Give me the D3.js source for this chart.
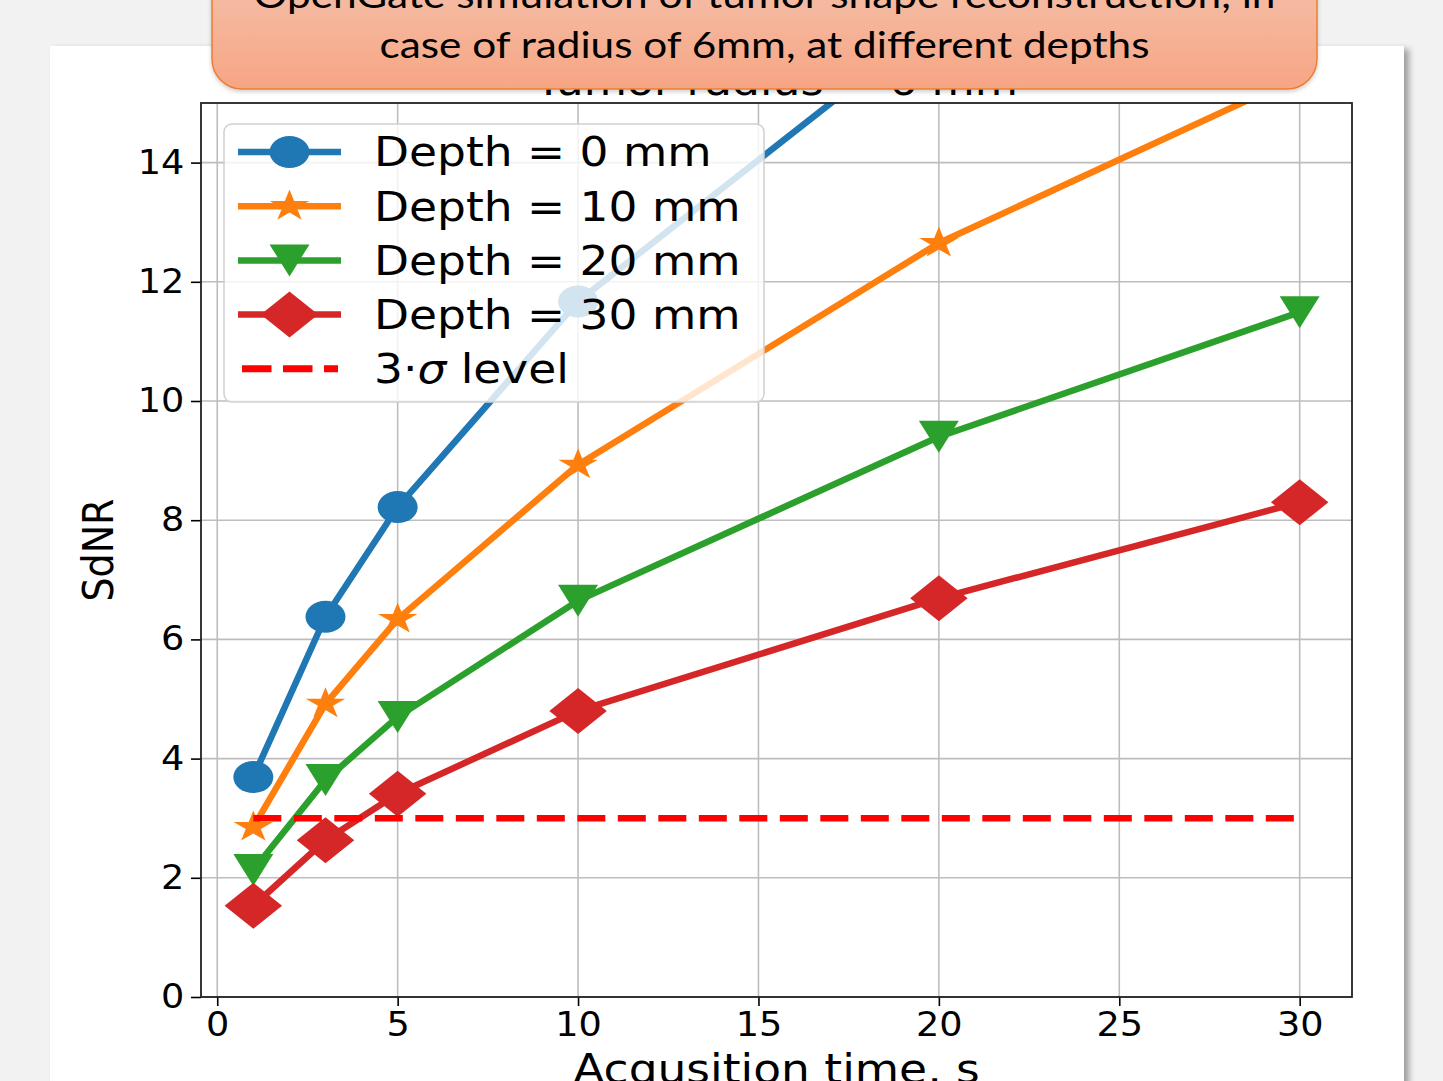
<!DOCTYPE html>
<html>
<head>
<meta charset="utf-8">
<script src="https://cdn.jsdelivr.net/npm/d3@7"></script>
<style>
  body { margin: 0; background: #f2f2f2; }
  svg { display: block; }
</style>
</head>
<body>
<svg id="chart"></svg>
<script>
// acquisition times (s)
const times = [1, 3, 5, 10, 20, 30];

// SdNR for each depth (null = no visible point)
const depth0 = [3.69, 6.38, 8.22, 11.67, 16.42, null];
const depth10 = [2.85, 4.92, 6.34, 8.93, 12.65, 15.45];
const depth20 = [2.13, 3.64, 4.70, 6.65, 9.40, 11.49];
const depth30 = [1.53, 2.63, 3.41, 4.80, 6.69, 8.30];

const sigmaLevel = 3;

const seriesNames = ["Depth = 0 mm", "Depth = 10 mm", "Depth = 20 mm", "Depth = 30 mm"];
const sigmaParts = ["3·", "σ", " level"];   // sigma is set in italic

const xTicks = [0, 5, 10, 15, 20, 25, 30];
const yTicks = [0, 2, 4, 6, 8, 10, 12, 14];

const titleText = "Tumor radius = 6 mm";
const xLabel = "Acqusition time, s";
const yLabel = "SdNR";
const calloutLines = [
  "OpenGate simulation of tumor shape reconstruction, in",
  "case of radius of 6mm, at different depths"
];

const W = 1443, H = 1081;
const plot = { left: 201, right: 1352, top: 103, bottom: 997 };
const SX = 1.25;   // the picture is stretched horizontally, markers show it
const TX = 1.11;   // text stretch

const colors = ["#1f77b4", "#ff7f0e", "#2ca02c", "#d62728"];
const shapes = ["circle", "star", "tridown", "diamond"];

const svg = d3.select("#chart").attr("width", W).attr("height", H);
const defs = svg.append("defs");

defs.append("clipPath").attr("id", "plotclip")
  .append("rect")
  .attr("x", plot.left).attr("y", plot.top)
  .attr("width", plot.right - plot.left)
  .attr("height", plot.bottom - plot.top);

const shadow = defs.append("filter").attr("id", "panelshadow")
  .attr("x", "-5%").attr("y", "-5%").attr("width", "110%").attr("height", "110%");
shadow.append("feDropShadow")
  .attr("dx", 5).attr("dy", 3).attr("stdDeviation", 3)
  .attr("flood-color", "#000").attr("flood-opacity", 0.35);

const boxShadow = defs.append("filter").attr("id", "boxshadow")
  .attr("x", "-5%").attr("y", "-20%").attr("width", "110%").attr("height", "140%");
boxShadow.append("feDropShadow")
  .attr("dx", 0).attr("dy", 2).attr("stdDeviation", 2)
  .attr("flood-color", "#000").attr("flood-opacity", 0.2);

const grad = defs.append("linearGradient").attr("id", "calloutgrad")
  .attr("gradientUnits", "userSpaceOnUse")
  .attr("x1", 0).attr("y1", 0).attr("x2", 0).attr("y2", 89);
grad.append("stop").attr("offset", "0%").attr("stop-color", "#f4baa1");
grad.append("stop").attr("offset", "100%").attr("stop-color", "#f7a584");

// white slide panel
svg.append("rect")
  .attr("x", 50).attr("y", 46).attr("width", 1354).attr("height", 1100)
  .attr("fill", "#fff")
  .attr("filter", "url(#panelshadow)");

const x = d3.scaleLinear().domain([-0.45, 31.45]).range([plot.left, plot.right]);
const y = d3.scaleLinear().domain([0, 15]).range([plot.bottom, plot.top]);

// grid
const grid = svg.append("g").attr("stroke", "#bdbdbd").attr("stroke-width", 1.6);
grid.selectAll(".gx").data(xTicks).join("line")
  .attr("x1", d => x(d)).attr("x2", d => x(d))
  .attr("y1", plot.top).attr("y2", plot.bottom);
grid.selectAll(".gy").data(yTicks).join("line")
  .attr("x1", plot.left).attr("x2", plot.right)
  .attr("y1", d => y(d)).attr("y2", d => y(d));

function markerPath(kind) {
  if (kind === "circle") {
    return "M-16,0A16,16 0 1,0 16,0A16,16 0 1,0 -16,0Z";
  }
  if (kind === "tridown") {
    return "M0,16L-16,-16L16,-16Z";
  }
  if (kind === "diamond") {
    return "M0,-23L23,0L0,23L-23,0Z";
  }
  // five point star, point up
  const R = 16.6, r = R * 0.381966;
  let p = [];
  for (let i = 0; i < 10; i++) {
    const a = -Math.PI / 2 + i * Math.PI / 5;
    const rad = i % 2 === 0 ? R : r;
    p.push([rad * Math.cos(a), rad * Math.sin(a)]);
  }
  return "M" + p.map(q => q[0].toFixed(2) + "," + q[1].toFixed(2)).join("L") + "Z";
}

const allSeries = [depth0, depth10, depth20, depth30];

const line = d3.line()
  .defined(d => d.v !== null)
  .x(d => x(d.t))
  .y(d => y(d.v));

const plotG = svg.append("g").attr("clip-path", "url(#plotclip)");

allSeries.forEach((vals, i) => {
  const pts = times.map((t, j) => ({ t: t, v: vals[j] }));
  plotG.append("path")
    .datum(pts)
    .attr("fill", "none")
    .attr("stroke", colors[i])
    .attr("stroke-width", 6.5)
    .attr("stroke-linejoin", "round")
    .attr("d", line);
  plotG.selectAll(".m" + i)
    .data(pts.filter(d => d.v !== null))
    .join("path")
    .attr("d", markerPath(shapes[i]))
    .attr("fill", colors[i])
    .attr("transform", d => "translate(" + x(d.t) + "," + y(d.v) + ") scale(" + SX + ",1)");
});

// 3 sigma level
plotG.append("line")
  .attr("x1", x(times[0])).attr("x2", x(times[times.length - 1]))
  .attr("y1", y(sigmaLevel)).attr("y2", y(sigmaLevel))
  .attr("stroke", "#ff0000")
  .attr("stroke-width", 6.5)
  .attr("stroke-dasharray", "28,12.5");

// axes
const xAxis = svg.append("g")
  .attr("transform", "translate(0," + plot.bottom + ")")
  .call(d3.axisBottom(x).tickValues(xTicks).tickSize(9).tickPadding(7).tickSizeOuter(0));
const yAxis = svg.append("g")
  .attr("transform", "translate(" + plot.left + ",0)")
  .call(d3.axisLeft(y).tickValues(yTicks).tickSize(10).tickPadding(5).tickSizeOuter(0));

[xAxis, yAxis].forEach(ax => {
  ax.select(".domain").remove();
  ax.selectAll(".tick line").attr("stroke", "#000").attr("stroke-width", 1.6);
  ax.selectAll(".tick text")
    .attr("fill", "#000")
    .style("font-family", "DejaVu Sans")
    .style("font-size", "33px")
    .attr("transform", "scale(" + TX + ",1)");
});

// frame
svg.append("rect")
  .attr("x", plot.left).attr("y", plot.top)
  .attr("width", plot.right - plot.left).attr("height", plot.bottom - plot.top)
  .attr("fill", "none").attr("stroke", "#222").attr("stroke-width", 1.8);

function stretchedText(g, str, px, py, size, anchor, extra) {
  return g.append("text")
    .attr("transform", "translate(" + px + "," + py + ") scale(" + TX + ",1)" + (extra || ""))
    .attr("text-anchor", anchor)
    .style("font-family", "DejaVu Sans")
    .style("font-size", size + "px")
    .attr("fill", "#000")
    .text(str);
}

const midX = (plot.left + plot.right) / 2;
stretchedText(svg, titleText, midX, 95, 40, "middle");
stretchedText(svg, xLabel, midX, 1083, 41, "middle");
stretchedText(svg, yLabel, 113, (plot.top + plot.bottom) / 2, 38, "middle", " rotate(-90)");

// legend
const legend = svg.append("g");
legend.append("rect")
  .attr("x", 224).attr("y", 124).attr("width", 540).attr("height", 278)
  .attr("rx", 8)
  .attr("fill", "#fff").attr("fill-opacity", 0.8)
  .attr("stroke", "#d0d0d0").attr("stroke-width", 1.5);

const rowY = i => 152 + i * 54.2;

seriesNames.forEach((name, i) => {
  const cy = rowY(i);
  legend.append("line")
    .attr("x1", 238).attr("x2", 341).attr("y1", cy).attr("y2", cy)
    .attr("stroke", colors[i]).attr("stroke-width", 6.5);
  legend.append("path")
    .attr("d", markerPath(shapes[i]))
    .attr("fill", colors[i])
    .attr("transform", "translate(289.5," + cy + ") scale(" + SX + ",1)");
  stretchedText(legend, name, 374, cy + 14.4, 41, "start");
});

const sy = rowY(4);
legend.append("line")
  .attr("x1", 242).attr("x2", 338).attr("y1", sy).attr("y2", sy)
  .attr("stroke", "#ff0000").attr("stroke-width", 7)
  .attr("stroke-dasharray", "29.5,11.5");
const sigmaText = stretchedText(legend, "", 374, sy + 14.4, 41, "start");
sigmaParts.forEach((part, k) => {
  sigmaText.append("tspan")
    .style("font-style", k === 1 ? "italic" : "normal")
    .text(part);
});

// callout box on top of slide
const callout = svg.append("g");
callout.append("rect")
  .attr("x", 212).attr("y", -60).attr("width", 1105).attr("height", 149)
  .attr("rx", 30)
  .attr("fill", "url(#calloutgrad)")
  .attr("stroke", "#ed7d31").attr("stroke-width", 1.5)
  .attr("filter", "url(#boxshadow)");

const calloutW = [1022, 770];
const calloutY = [8, 58];
calloutLines.forEach((str, i) => {
  callout.append("text")
    .attr("x", 764.5).attr("y", calloutY[i])
    .attr("text-anchor", "middle")
    .attr("textLength", calloutW[i])
    .attr("lengthAdjust", "spacingAndGlyphs")
    .style("font-family", "Lato, 'Open Sans', sans-serif")
    .style("font-size", "37px")
    .attr("fill", "#000")
    .text(str);
});
</script>
</body>
</html>
